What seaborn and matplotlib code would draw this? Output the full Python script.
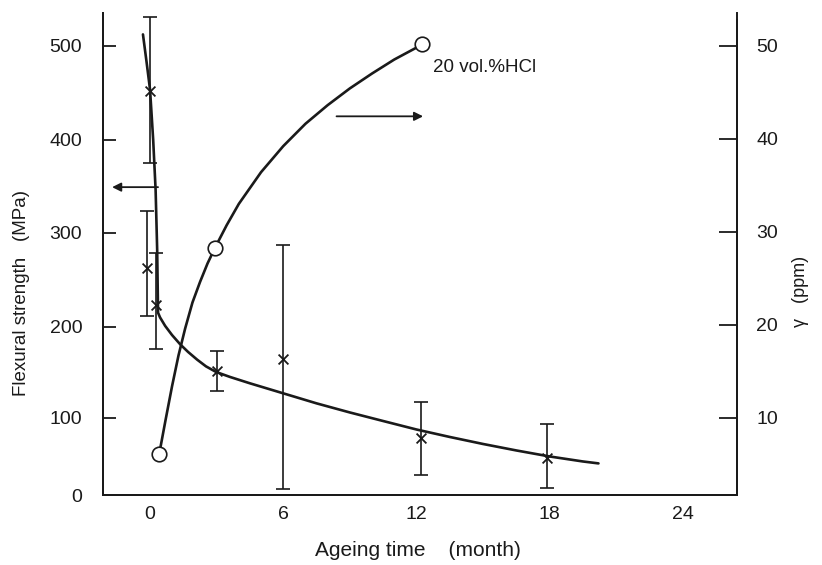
import numpy as np
import matplotlib
matplotlib.use("Agg")
import matplotlib.pyplot as plt
import seaborn as sns

# ---- flexural strength (MPa): measured points with scatter ranges ----
fs_month = [0.0, -0.15, 0.25, 3.0, 6.0, 12.2, 17.9]
fs_mean = [452, 263, 223, 151, 165, 74, 48]
fs_low = [375, 212, 176, 130, 8, 26, 9]
fs_high = [531, 323, 279, 174, 287, 118, 92]

# fitted strength curve
fs_curve_month = [-0.32, -0.16, 0.0, 0.14, 0.25, 0.32, 0.36, 0.45, 0.68, 0.99,
                  1.35, 1.71, 2.12, 2.52, 2.97, 3.6, 4.5, 6.0, 7.5, 9.0,
                  10.5, 12.0, 13.5, 15.0, 16.5, 18.0, 19.5, 20.2]
fs_curve_value = [512, 483, 453, 400, 346, 282, 215, 210, 201, 191,
                  181, 172.5, 164, 156.6, 150.5, 145, 138, 127, 116, 106,
                  96, 85, 75.3, 66.2, 57.8, 50, 43.5, 41]

# ---- gamma (ppm) in 20 vol.% HCl ----
gm_month = [0.41, 2.93, 12.25]
gm_value = [6.1, 28.3, 50.2]

gm_curve_month = [0.41, 0.70, 0.99, 1.28, 1.58, 1.91, 2.25, 2.59, 2.93, 3.45,
                  4.0, 5.0, 6.0, 7.0, 8.0, 9.0, 10.0, 11.0, 12.25]
gm_curve_value = [6.1, 9.8, 13.4, 16.7, 19.6, 22.4, 24.6, 26.6, 28.3, 30.7,
                  33.0, 36.4, 39.2, 41.6, 43.6, 45.4, 47.0, 48.5, 50.1]

x_ticks = [0, 6, 12, 18, 24]
fs_ticks = [0, 100, 200, 300, 400, 500]
gm_ticks = [10, 20, 30, 40, 50]

# the strength axis is drawn with a shorter 0-100 interval than the rest
scale_knots_value = [-100, 0, 100, 200, 300, 400, 500, 600]
scale_knots_span = [-77, 0, 77, 168, 262, 355, 449, 542]


def strength_fwd(v):
    return np.interp(v, scale_knots_value, scale_knots_span)


def strength_inv(u):
    return np.interp(u, scale_knots_span, scale_knots_value)


sns.set_theme(style="white")
plt.rcParams["font.family"] = ["Liberation Sans", "DejaVu Sans"]
ink = "#1a1a1a"

W, H = 822, 565
fig = plt.figure(figsize=(W / 100, H / 100), dpi=100)
fig.patch.set_facecolor("white")
ax = fig.add_axes([103 / W, 70 / H, (737 - 103) / W, (495 - 13) / H])
ax.set_yscale("function", functions=(strength_fwd, strength_inv))
ax2 = ax.twinx()

# strength: error bars, crosses, fitted curve
ax.errorbar(fs_month, fs_mean,
            yerr=[[m - l for m, l in zip(fs_mean, fs_low)],
                  [h - m for h, m in zip(fs_high, fs_mean)]],
            fmt="none", ecolor=ink, elinewidth=1.2, capsize=5, capthick=1.2, zorder=3)
sns.scatterplot(x=fs_month, y=fs_mean, marker="x", color=ink, s=50,
                linewidth=1.3, ax=ax, zorder=4)
sns.lineplot(x=fs_curve_month, y=fs_curve_value, color=ink, lw=1.9,
             sort=False, estimator=None, ax=ax, zorder=3)

# gamma: curve and open circles
sns.lineplot(x=gm_curve_month, y=gm_curve_value, color=ink, lw=1.9,
             sort=False, estimator=None, ax=ax2, zorder=3)
sns.scatterplot(x=gm_month, y=gm_value, marker="o", s=110, facecolor="white",
                edgecolor=ink, linewidth=1.2, ax=ax2, zorder=5)

ax.set_xlim(-2.12, 26.44)
ax.set_ylim(0, 535)
ax2.set_ylim(1.72, 53.5)

ax.set_xticks(x_ticks)
ax.set_xticklabels([str(v) for v in x_ticks], fontsize=14, color=ink)
ax.set_yticks(fs_ticks)
ax.set_yticklabels([str(v) for v in fs_ticks], fontsize=14, color=ink)
ax.yaxis.set_minor_locator(matplotlib.ticker.NullLocator())
ax2.set_yticks(gm_ticks)
ax2.set_yticklabels([str(v) for v in gm_ticks], fontsize=14, color=ink)

ax.tick_params(axis="x", length=0, pad=8)
ax.tick_params(axis="y", direction="in", length=9, width=1.3, color=ink, pad=15, left=True)
ax2.tick_params(axis="y", direction="in", length=13, width=1.3, color=ink, pad=14, right=True)

for a in (ax, ax2):
    a.spines["top"].set_visible(False)
    for s in ("left", "right", "bottom"):
        a.spines[s].set_linewidth(1.4)
        a.spines[s].set_color(ink)
    a.grid(False)
    a.set_xlabel("")
    a.set_ylabel("")
ax2.spines["right"].set_bounds(1.72, 52.8)
ax.set_facecolor("none")

# direction arrows pointing to each axis
ax.annotate("", xy=(-1.71, 349), xytext=(0.36, 349),
            arrowprops=dict(arrowstyle="-|>", color=ink, lw=1.3, mutation_scale=13,
                            shrinkA=0, shrinkB=0))
ax2.annotate("", xy=(12.3, 42.4), xytext=(8.4, 42.4),
             arrowprops=dict(arrowstyle="-|>", color=ink, lw=1.3, mutation_scale=13,
                             shrinkA=0, shrinkB=0))
ax2.text(12.75, 47.6, "20 vol.%HCl", ha="left", va="center", fontsize=13.5, color=ink)

# axis titles
fig.text(22 / W, 1 - 293 / H, "Flexural strength   (MPa)", rotation=90,
         ha="center", va="center", fontsize=13.5, color=ink)
fig.text(800 / W, 1 - 291 / H, "\u03b3   (ppm)", rotation=90,
         ha="center", va="center", fontsize=13, color=ink)
fig.text(418 / W, 1 - 550 / H, "Ageing time    (month)",
         ha="center", va="center", fontsize=15, color=ink)

fig.savefig("out.png", dpi=100, facecolor="white")
